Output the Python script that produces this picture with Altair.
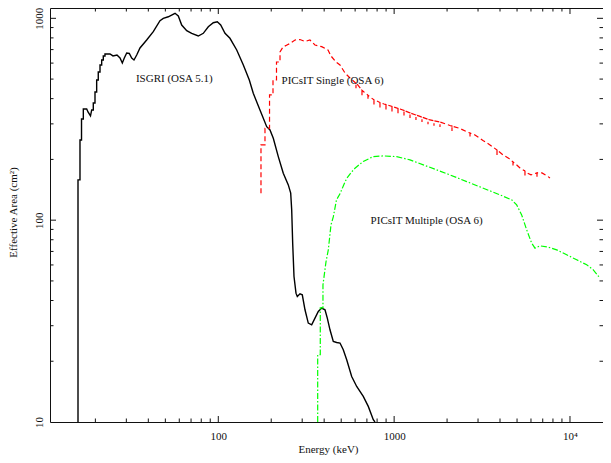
import altair as alt
import pandas as pd

# ---------------- data ----------------
isgri_energy = [15.93, 15.93, 16.35, 16.35, 16.68, 16.68, 17.08, 17.08, 17.85, 18.16,
                18.76, 19.06, 19.46, 19.46, 19.90, 19.90, 20.34, 20.34, 20.77, 20.77,
                21.25, 21.25, 21.72, 21.72, 22.18, 22.18, 22.68, 22.68, 24.22, 25.19,
                26.54, 27.61, 28.46, 29.21, 30.14, 31.18, 32.18, 33.16, 34.36, 35.87,
                39.15, 42.69, 46.61, 48.67, 51.96, 56.73, 59.23, 61.93, 66.12, 70.6,
                76.94, 82.17, 87.74, 93.67, 98.7, 103.2, 109.2, 116.5, 127.3, 138.8,
                150.1, 158.1, 172.6, 188.5, 196.8, 205.5, 219.4, 234.2, 250.1, 258.1,
                261.5, 264.9, 269.5, 276.6, 281.4, 291.5, 300.4, 311.2, 324.9, 339.7,
                354.7, 370.4, 387.3, 404.4, 416.8, 431.7, 450.8, 471.3, 492.2, 513.8,
                537.3, 573.6, 612.4, 667.6, 712.8, 761.1, 778.3]
isgri_area = [10, 158.3, 158.3, 249.7, 249.7, 317.3, 317.3, 355.6, 355.6, 343.7,
              328.3, 351.6, 351.6, 380.8, 380.8, 431.6, 431.6, 495, 495, 542.3,
              542.3, 587.3, 587.3, 621.8, 621.8, 651, 651, 665.9, 665.9, 651,
              658.1, 636.1, 600.8, 636, 673.5, 669.7, 636, 621.8, 658, 712.8,
              780.7, 858.5, 973, 1000, 1018, 1059, 1027, 926.4, 868.3, 842.8,
              817.3, 842.8, 908.6, 951, 962.1, 926.4, 842.8, 796.2, 696.6, 587.3,
              495, 425.3, 351.6, 290.6, 279.9, 254.6, 206.5, 170.9, 149.5, 136.1,
              112.4, 76.9, 52.6, 43.5, 41.84, 43.16, 42.68, 35.97, 30.91, 30.32,
              32.72, 35.28, 36.68, 35.97, 32.72, 28.63, 25.06, 24.78, 24.61, 22.8,
              20.34, 16.81, 15.0, 13.39, 11.95, 10.27, 10]

# PICsIT single events (with the small notches of the binned curve)
single_energy = [174.9, 174.9, 184.3, 184.3, 195.6, 195.6, 204.7, 204.7, 214.3, 214.3,
                 224.4, 224.4, 233.3, 245.9, 255.7, 273.1, 291.5, 311.2, 332.2, 354.7,
                 387.3, 420.6, 437.4, 467, 492.2, 525.4, 561,
                 606.8, 606.8, 606.8, 614.9, 656.4, 656.4, 656.4, 673.9,
                 710.0, 710.0, 710.0, 729.1, 768.0, 768.0, 768.0, 798.6,
                 830.7, 830.7, 830.7, 875.6, 898.8, 898.8, 898.8,
                 972.3, 972.3, 972.3, 1052, 1052, 1052, 1080, 1138, 1138, 1138,
                 1231, 1231, 1231, 1331, 1331, 1331, 1403, 1440, 1440, 1440,
                 1558, 1558, 1558, 1599, 1685, 1685, 1685, 1823, 1823, 1823,
                 2077, 2133, 2133, 2133, 2368, 2596, 2701, 2701, 2701, 2883,
                 3201, 3509, 3846, 3846, 3846, 4159, 4498, 4742, 4742, 4742,
                 4867, 5196, 5547, 5547, 5547, 5694, 6000, 6492, 6492, 6492,
                 6930, 7398, 7694]
single_area = [136.1, 235.9, 235.9, 285.3, 285.3, 417.3, 417.3, 495, 495, 607.7,
               607.7, 681.3, 721.2, 737.8, 750.5, 780.7, 785.2, 767.5, 780.7, 737.8,
               723.7, 696.6, 651, 607.7, 587.3, 536.1, 506.3,
               477.2, 451, 477.2, 472.9, 440.2, 416, 440.2, 431.6,
               415.8, 393, 415.8, 407.8, 394.5, 373, 394.5, 389.5,
               382.5, 361.5, 382.5, 376.4, 373.9, 353.3, 373.9,
               365.9, 345.8, 365.9, 358.1, 338.4, 358.1, 355.6, 349.3, 330.1, 349.3,
               339.8, 321.1, 339.8, 331.7, 313.5, 331.7, 326.5, 323.9, 306.1, 323.9,
               316.2, 298.8, 316.2, 313.7, 310.8, 293.7, 310.8, 306.6, 289.7, 306.6,
               294.6, 292.6, 276.5, 292.6, 284.7, 273.6, 270.2, 255.3, 270.2, 264.4,
               248.3, 235.9, 222.8, 210.5, 222.8, 210.5, 202.3, 194.3, 183.6, 194.3,
               191.1, 181.5, 175.1, 165.5, 175.1, 171.5, 167.6, 171.5, 162.1, 171.5,
               171.5, 165.7, 161.9]

multi_energy = [367.5, 367.5, 380.2, 380.2, 393.8, 393.8, 409.7, 422.3, 437.4, 450.8,
                470.1, 492.2, 513.8, 537.3, 573.6, 599, 667.6, 761.1, 867.6, 1034,
                1231, 1465, 1746, 2077, 2586, 3214, 3999, 4661, 4976, 5312,
                5672, 6056, 6324, 6751, 7525, 8403, 9577, 10920, 12450, 13570, 14810]
multi_area = [10, 21.54, 21.54, 36.8, 36.8, 47.83, 62.18, 71.28, 94.78, 103.8,
              126.1, 135, 147.8, 161, 173.4, 180.9, 195.5, 206.5, 208.1, 206.5,
              198.9, 187.9, 177.5, 167.6, 155.3, 144, 133.5, 126.1, 119, 106.2,
              89.54, 76.9, 72.66, 74.6, 73.5, 71.28, 67.35, 63.61, 60.08, 56.75, 51.62]

label_text = ["ISGRI (OSA 5.1)", "PICsIT Single (OSA 6)", "PICsIT Multiple (OSA 6)"]
label_energy = [34.0, 229.0, 735.0]
label_area = [500.0, 489.0, 99.2]

x_major = [100, 1000, 10000]
x_minor = [20, 30, 40, 50, 60, 70, 80, 90,
           200, 300, 400, 500, 600, 700, 800, 900,
           2000, 3000, 4000, 5000, 6000, 7000, 8000, 9000]
y_major = [100, 1000]
y_minor = [20, 30, 40, 50, 60, 70, 80, 90,
           200, 300, 400, 500, 600, 700, 800, 900]
y_label_values = [10, 100, 1000]

# ---------------- chart ----------------
W, H = 553, 414
X_DOMAIN = [11.04, 15409]
Y_DOMAIN = [10, 1125]
FONT = "Liberation Serif"
INK = "#111111"
MAJOR, MINOR = 6, 3.5


def frame(energy, area):
    return pd.DataFrame({"energy": energy, "area": area, "i": list(range(len(energy)))})


xs = alt.Scale(type="log", domain=X_DOMAIN, nice=False)
ys = alt.Scale(type="log", domain=Y_DOMAIN, nice=False)

# one identical axis definition per channel, shared by every layer
X_AXIS = alt.Axis(orient="bottom", values=x_major,
                  labelExpr="datum.value >= 10000 ? '10\u2074' : format(datum.value, 'd')",
                  ticks=False, tickSize=0, domain=False, grid=False,
                  labelPadding=8, labelFlush=False, labelOverlap=False,
                  title="Energy (keV)", titleX=278, titleY=27,
                  titleAlign="center", titleBaseline="middle")
Y_AXIS = alt.Axis(orient="left", values=y_label_values, format="d",
                  labelAngle=270, labelAlign="center", labelBaseline="bottom",
                  labelPadding=6, labelOverlap=False,
                  ticks=False, tickSize=0, domain=False, grid=False,
                  title="Effective Area (cm\u00b2)", titleAngle=270,
                  titleX=-37, titleY=204, titleAlign="center",
                  titleBaseline="middle")


def line_layer(df, color, width, dash):
    kw = dict(color=color, strokeWidth=width, clip=True)
    if dash:
        kw["strokeDash"] = dash
    return alt.Chart(df).mark_line(**kw).encode(
        x=alt.X("energy:Q", scale=xs, axis=X_AXIS),
        y=alt.Y("area:Q", scale=ys, axis=Y_AXIS),
        order=alt.Order("i:Q"),
    )


isgri = line_layer(frame(isgri_energy, isgri_area), "#000000", 1.4, None)
single = line_layer(frame(single_energy, single_area), "#ff0000", 1.2, [5, 3])
multi = line_layer(frame(multi_energy, multi_area), "#00ff00", 1.2, [6, 2, 1.5, 2])

labels_df = pd.DataFrame({"text": label_text, "energy": label_energy, "area": label_area})
texts = alt.Chart(labels_df).mark_text(align="left", baseline="middle", font=FONT,
                                       fontSize=11, color=INK).encode(
    x=alt.X("energy:Q", scale=xs, axis=X_AXIS),
    y=alt.Y("area:Q", scale=ys, axis=Y_AXIS),
    text="text:N",
)


# inward ticks on all four sides (tick marks placed by the log scales)
def x_tick_side(values, size, side):
    col = "tick_x_" + side
    df = pd.DataFrame({col: values})
    ypos = H - size / 2 if side == "bottom" else size / 2
    return alt.Chart(df).mark_tick(color=INK, size=size, thickness=1, opacity=1).encode(
        x=alt.X(col + ":Q", scale=xs, axis=X_AXIS), y=alt.value(ypos))


def y_tick_side(values, size, side):
    col = "tick_y_" + side
    df = pd.DataFrame({col: values})
    xpos = size / 2 if side == "left" else W - size / 2
    return alt.Chart(df).mark_tick(color=INK, size=size, thickness=1, opacity=1).encode(
        y=alt.Y(col + ":Q", scale=ys, axis=Y_AXIS), x=alt.value(xpos))


tick_layers = [
    x_tick_side(x_major, MAJOR, "bottom"), x_tick_side(x_major, MAJOR, "top"),
    x_tick_side(x_minor, MINOR, "bottom"), x_tick_side(x_minor, MINOR, "top"),
    y_tick_side(y_major, MAJOR, "left"), y_tick_side(y_major, MAJOR, "right"),
    y_tick_side(y_minor, MINOR, "left"), y_tick_side(y_minor, MINOR, "right"),
]

chart = alt.layer(isgri, single, multi, texts, *tick_layers).properties(
    width=W, height=H,
    padding={"left": 42, "top": 0, "right": 0, "bottom": 33},
    autosize=alt.AutoSizeParams(type="none"),
).configure_view(
    stroke=INK, strokeWidth=1
).configure_axis(
    labelFont=FONT, titleFont=FONT, labelFontSize=11, titleFontSize=11,
    titleFontWeight="normal", labelColor=INK, titleColor=INK
)

chart.save("out.html", embed_options={"renderer": "svg", "actions": False})
